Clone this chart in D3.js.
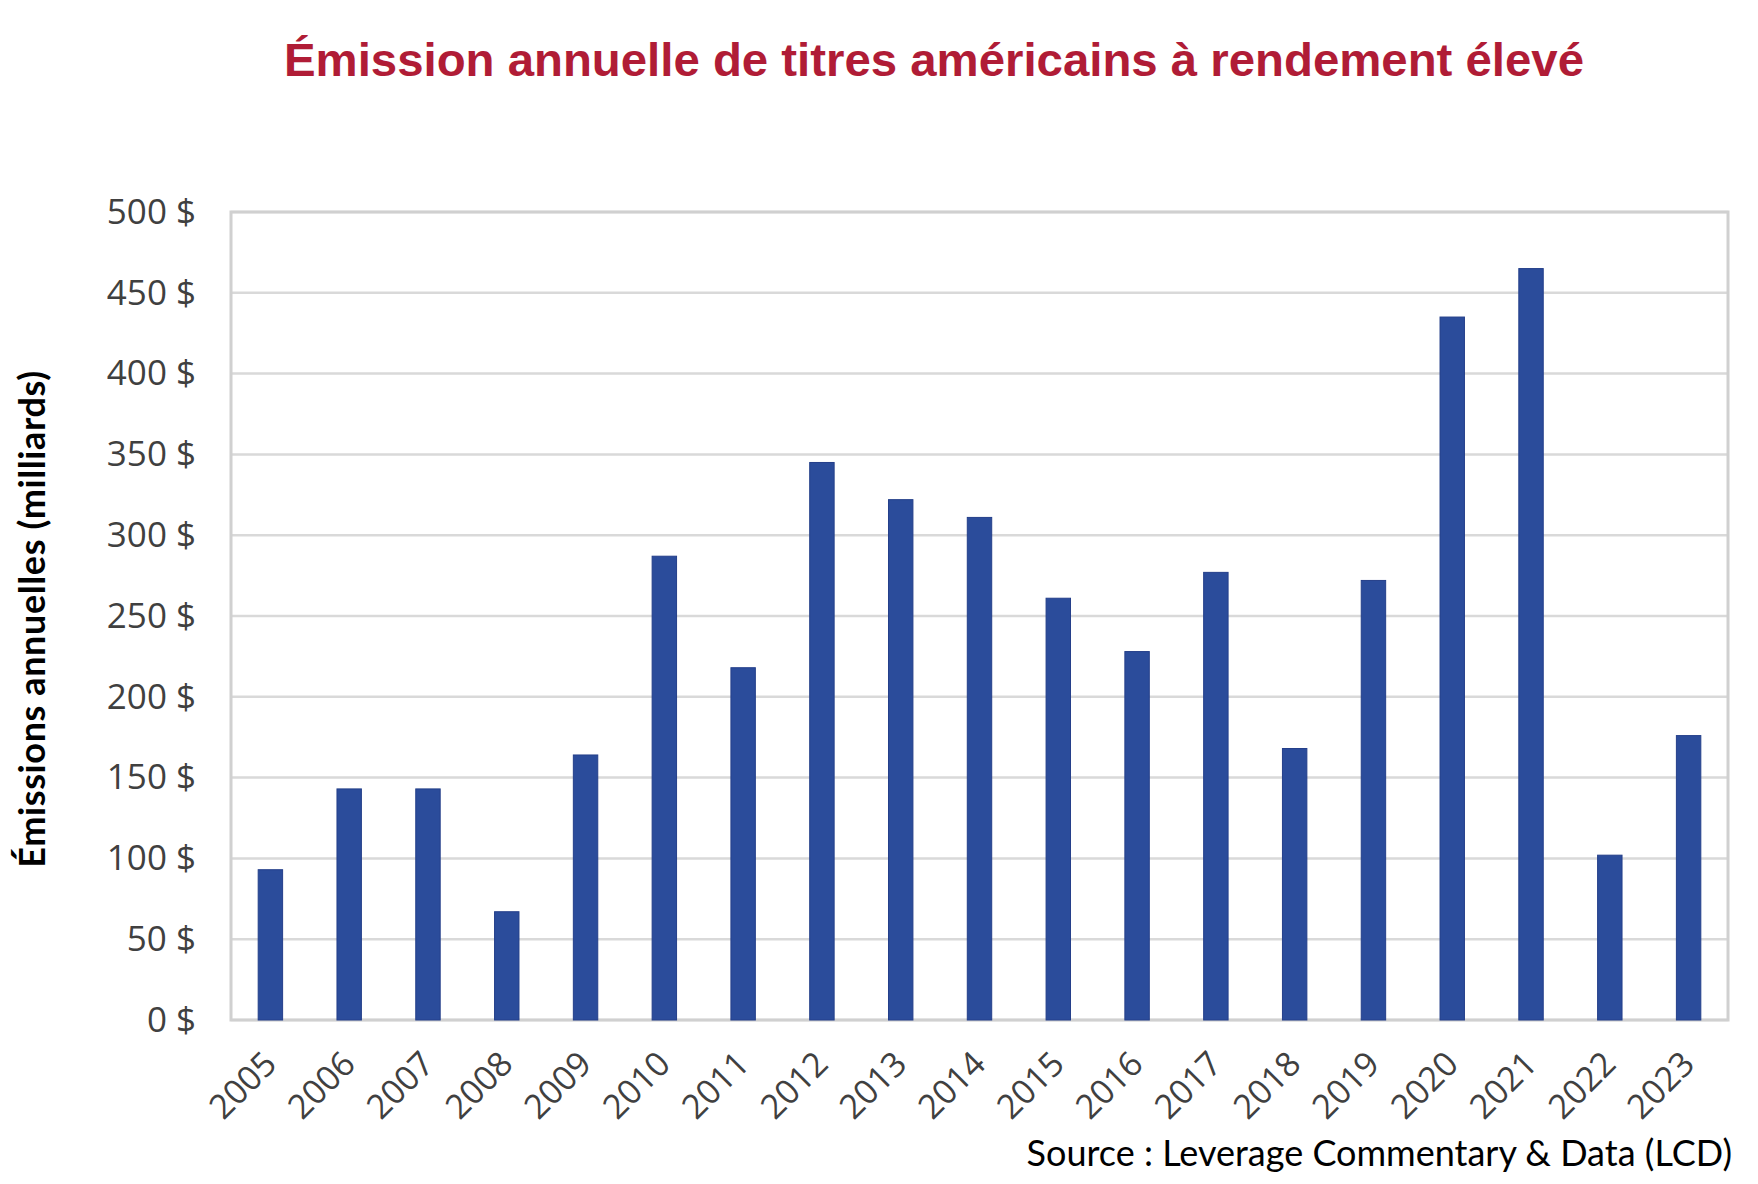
<!DOCTYPE html>
<html>
  <head>
    <meta charset="UTF-8"/>
    <script src="https://d3js.org/d3.v7.min.js"></script>
    <style>
      body{ margin:0; background:#fff; }
      svg{ display:block; }
      .ytick text{ font-family:"Open Sans", sans-serif; font-size:35px; fill:#404040; }
      .xtick text{ font-family:"Open Sans", sans-serif; font-size:34px; fill:#404040; }
    </style>
  </head>
  <body>
    <script>
      // data
      const years = ['2005','2006','2007','2008','2009','2010','2011','2012','2013','2014',
                     '2015','2016','2017','2018','2019','2020','2021','2022','2023'];
      const issuance = [93, 143, 143, 67, 164, 287, 218, 345, 322, 311,
                        261, 228, 277, 168, 272, 435, 465, 102, 176];
      const yTicks = [0, 50, 100, 150, 200, 250, 300, 350, 400, 450, 500];

      const width = 1758, height = 1184;
      const plotLeft = 231, plotRight = 1728, plotTop = 212, plotBottom = 1020;

      const svg = d3.select('body').append('svg')
                    .attr('width', width)
                    .attr('height', height);

      const x = d3.scaleBand()
                  .domain(years)
                  .range([plotLeft, plotRight])
                  .paddingInner(0.69)
                  .paddingOuter(0.345);

      const y = d3.scaleLinear()
                  .domain([0, 500])
                  .range([plotBottom, plotTop]);

      // gridlines
      svg.append('g')
         .selectAll('line')
         .data(yTicks)
         .enter().append('line')
         .attr('x1', plotLeft).attr('x2', plotRight)
         .attr('y1', d => y(d)).attr('y2', d => y(d))
         .attr('stroke', '#d9d9d9')
         .attr('stroke-width', 2.5);

      // plot frame
      svg.append('rect')
         .attr('x', plotLeft).attr('y', plotTop)
         .attr('width', plotRight - plotLeft).attr('height', plotBottom - plotTop)
         .attr('fill', 'none')
         .attr('stroke', '#d0d0d0')
         .attr('stroke-width', 3);

      // bars
      svg.append('g')
         .selectAll('rect')
         .data(years)
         .enter().append('rect')
         .attr('x', d => x(d))
         .attr('width', x.bandwidth())
         .attr('y', (d, i) => y(issuance[i]))
         .attr('height', (d, i) => y(0) - y(issuance[i]))
         .attr('fill', '#2b4c9b')
         .attr('stroke', '#243f8a')
         .attr('stroke-width', 1);

      // y axis labels
      const yAxis = d3.axisLeft(y)
                      .tickValues(yTicks)
                      .tickFormat(d => d + ' $')
                      .tickSize(0)
                      .tickPadding(0);
      svg.append('g')
         .attr('class', 'ytick')
         .attr('transform', 'translate(196,0)')
         .call(yAxis)
         .call(g => g.select('.domain').remove());

      // x axis labels, turned 45 degrees
      const xAxis = d3.axisBottom(x).tickSize(0);
      svg.append('g')
         .attr('class', 'xtick')
         .attr('transform', 'translate(0,' + plotBottom + ')')
         .call(xAxis)
         .call(g => g.select('.domain').remove())
         .selectAll('text')
         .attr('text-anchor', 'end')
         .attr('dy', 0)
         .attr('y', 0)
         .attr('transform', 'translate(8,46) rotate(-45)');

      // title
      svg.append('text')
         .attr('x', 934)
         .attr('y', 76)
         .attr('text-anchor', 'middle')
         .attr('font-family', '"Liberation Sans Narrow", "Liberation Sans", sans-serif')
         .attr('font-weight', 'bold')
         .attr('font-size', 47)
         .attr('fill', '#b01c36')
         .attr('textLength', 1300)
         .attr('lengthAdjust', 'spacingAndGlyphs')
         .text('Émission annuelle de titres américains à rendement élevé');

      // y axis title
      svg.append('text')
         .attr('transform', 'translate(45,619) rotate(-90)')
         .attr('text-anchor', 'middle')
         .attr('font-family', 'Lato, sans-serif')
         .attr('font-weight', 'bold')
         .attr('font-size', 36)
         .attr('letter-spacing', 0.6)
         .attr('fill', '#000')
         .text('Émissions annuelles (milliards)');

      // source
      svg.append('text')
         .attr('x', 1732)
         .attr('y', 1166)
         .attr('text-anchor', 'end')
         .attr('font-family', 'Lato, sans-serif')
         .attr('font-size', 36)
         .attr('fill', '#000')
         .text('Source : Leverage Commentary & Data (LCD)');
    </script>
  </body>
</html>
